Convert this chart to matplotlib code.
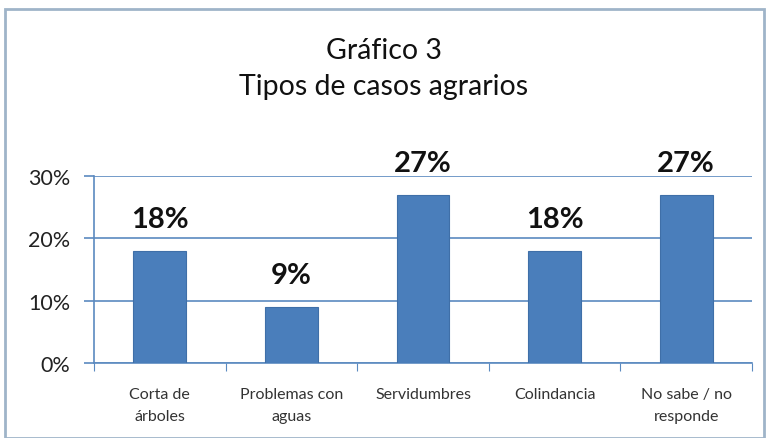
import matplotlib
matplotlib.use('Agg')
import matplotlib.pyplot as plt
from matplotlib.patches import Rectangle

# data
categories = ['Corta de\nárboles', 'Problemas con\naguas', 'Servidumbres',
              'Colindancia', 'No sabe / no\nresponde']
values = [0.18, 0.09, 0.27, 0.18, 0.27]
yticks = [0.0, 0.10, 0.20, 0.30]
ytick_labels = ['0%', '10%', '20%', '30%']
title = 'Gráfico 3\nTipos de casos agrarios'


def main():
    plt.rcParams['font.family'] = ['Lato', 'DejaVu Sans']
    fig = plt.figure(figsize=(7.67, 4.39), dpi=100)

    # outer chart border
    fig.patches.append(Rectangle((5 / 767, 0.0), 759 / 767, 1 - 10 / 439,
                                 transform=fig.transFigure, fill=False,
                                 edgecolor='#9fb4c9', linewidth=2))

    ax = fig.add_axes([94 / 767, 1 - 364 / 439, 658 / 767, 187 / 439])
    x = list(range(len(categories)))
    ax.bar(x, values, width=0.4, color='#4a7ebb', edgecolor='#3f6fa8',
           linewidth=0.8, zorder=3)

    for xi, v in zip(x, values):
        ax.text(xi, v + 0.03, '{:.0f}%'.format(v * 100), ha='center',
                va='bottom', fontsize=21, fontweight='bold', color='#111111')

    ax.set_xlim(-0.5, len(categories) - 0.5)
    ax.set_ylim(0, 0.30)
    ax.set_yticks(yticks)
    ax.set_yticklabels(ytick_labels, fontsize=15.5, color='#222222')
    ax.yaxis.grid(True, color='#5b8ac0', linewidth=1.2, zorder=0)

    # x ticks at category boundaries, labels at centers
    ax.set_xticks([i - 0.5 for i in range(len(categories) + 1)])
    ax.set_xticklabels([])
    ax.set_xticks(x, minor=True)
    ax.set_xticklabels(categories, minor=True, fontsize=11.5,
                       color='#333333', linespacing=1.75)
    ax.tick_params(axis='x', which='major', length=6, color='#5b8ac0')
    ax.tick_params(axis='x', which='minor', length=0, pad=17)
    ax.tick_params(axis='y', length=7, color='#5b8ac0', width=1.2, pad=10)

    for side in ['top', 'right']:
        ax.spines[side].set_visible(False)
    ax.spines['left'].set_color('#5b8ac0')
    ax.spines['bottom'].set_color('#5b8ac0')
    ax.spines['left'].set_linewidth(1.2)
    ax.spines['bottom'].set_linewidth(1.2)

    fig.text(0.5, 1 - 69 / 439, title, ha='center', va='center',
             fontsize=20.5, color='#111111', linespacing=1.45)

    fig.savefig('out.png', dpi=100)


if __name__ == '__main__':
    main()
